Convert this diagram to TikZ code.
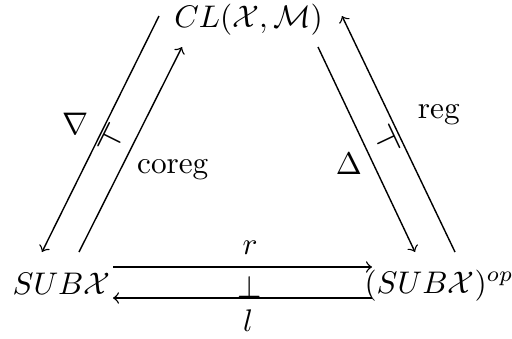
\documentclass[tikz,border=0pt]{standalone}
\usepackage{amsmath,amssymb}
\begin{document}
\begin{tikzpicture}[x=0.32pt,y=-0.32pt,
  obj/.style={anchor=base,inner sep=0pt},
  lab/.style={inner sep=0pt},
  arr/.style={->,line width=0.45pt}]
\useasboundingbox (0,0) rectangle (512,338);
\node[obj] (cl) at (248.5,27) {$CL(\mathcal{X},\mathcal{M})$};
\node[obj] (sub) at (61.5,294) {$SUB\mathcal{X}$};
\node[obj] (op) at (439,293) {$(SUB\mathcal{X})^{op}$};
% left pair
\draw[arr] ([shift={(-89.5,-11)}]cl.base) -- ([shift={(-19.5,-42)}]sub.base);
\draw[arr] ([shift={(17.5,-42)}]sub.base) -- ([shift={(-66.5,20)}]cl.base);
% right pair
\draw[arr] ([shift={(69.5,20)}]cl.base) -- ([shift={(-24,-41)}]op.base);
\draw[arr] ([shift={(16,-41)}]op.base) -- ([shift={(93.5,-11)}]cl.base);
% bottom pair
\draw[arr] ([shift={(51.5,-27)}]sub.base) -- ([shift={(-67,-26)}]op.base);
\draw[arr] ([shift={(-67,5)}]op.base) -- ([shift={(51.5,4)}]sub.base);
% labels
\node[lab] (nabla) at (76,124) {$\nabla$};
\node[lab] (coreg) at (173,170) {$\mathrm{coreg}$};
\node[lab] (delta) at (349,164) {$\Delta$};
\node[lab] (reg) at (439,115) {$\mathrm{reg}$};
\node[lab] (r) at (250,248) {$r$};
\node[lab] (perp) at (250,287) {$\perp$};
\node[lab] (l) at (248,321) {$l$};
\node[lab,rotate=-26.4,scale=1.25] (tl) at (112,139) {$\vdash$};
\node[lab,rotate=25.3,scale=1.25] (tr) at (386,140) {$\dashv$};
\end{tikzpicture}
\end{document}
